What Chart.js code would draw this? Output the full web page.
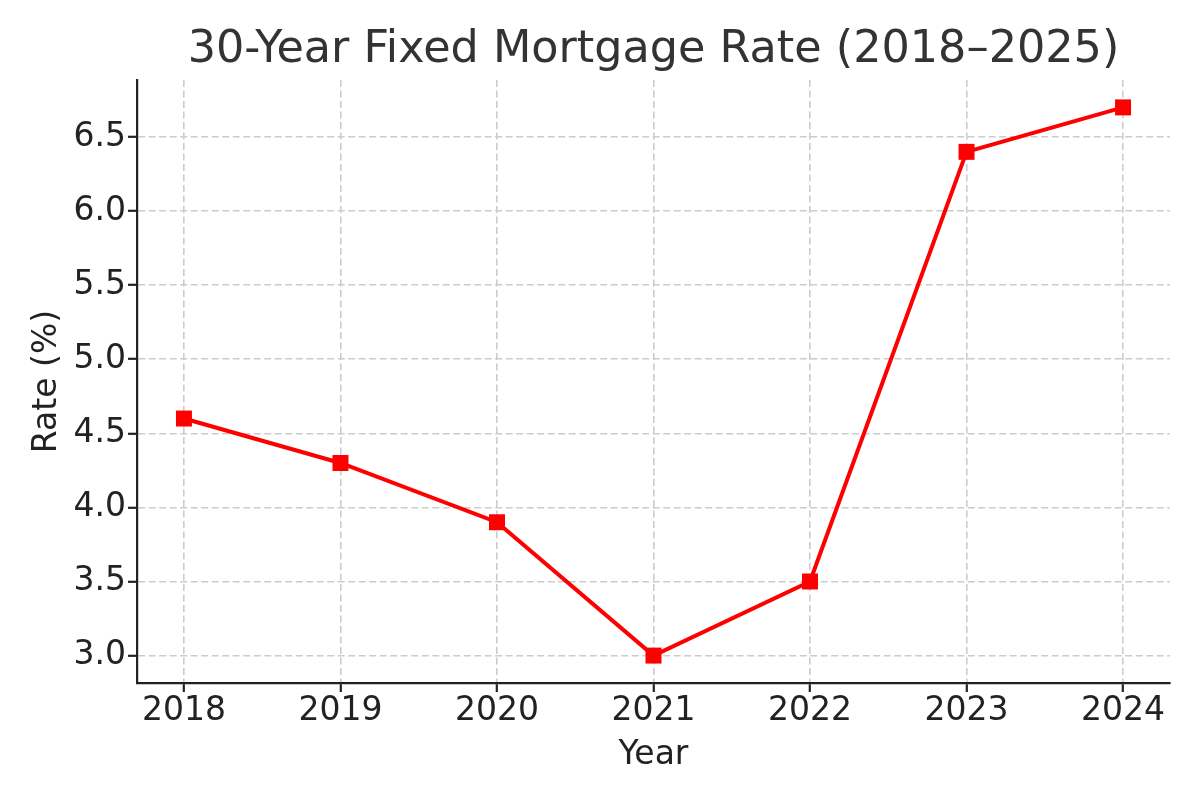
<!DOCTYPE html>
<html><head><meta charset="utf-8">
<script src="https://cdn.jsdelivr.net/npm/chart.js@4/dist/chart.umd.min.js"></script>
<style>html,body{margin:0;padding:0;background:#fff}#wrap{width:1200px;height:800px}</style>
</head><body><div id="wrap"><canvas id="c" width="1200" height="800"></canvas></div>
<script>
const years = [2018, 2019, 2020, 2021, 2022, 2023, 2024];
const rates = [4.6, 4.3, 3.9, 3.0, 3.5, 6.4, 6.7];
const yTicks = [3.0, 3.5, 4.0, 4.5, 5.0, 5.5, 6.0, 6.5];
const titleText = '30-Year Fixed Mortgage Rate (2018\u20132025)';
const xLabel = 'Year';
const yLabel = 'Rate (%)';

const FONT = "'DejaVu Sans', sans-serif";
const titlePlugin = {
  id: 'centerTitle',
  afterDraw(chart) {
    const ctx = chart.ctx, a = chart.chartArea;
    ctx.save();
    ctx.font = "44.5px " + FONT;
    ctx.fillStyle = '#333333';
    ctx.textAlign = 'center';
    ctx.textBaseline = 'middle';
    ctx.fillText(titleText, (a.left + a.right) / 2, 50);
    ctx.restore();
  }
};

new Chart(document.getElementById('c'), {
  type: 'line',
  data: {
    datasets: [{
      data: years.map((y, i) => ({x: y, y: rates[i]})),
      borderColor: '#ff0000',
      backgroundColor: '#ff0000',
      borderWidth: 4,
      pointStyle: 'rect',
      pointRadius: 11.3,
      pointBorderWidth: 0,
      tension: 0
    }]
  },
  options: {
    responsive: false,
    animation: false,
    devicePixelRatio: 1,
    layout: {padding: {top: 80, right: 30, left: 0, bottom: 0}},
    plugins: {legend: {display: false}, tooltip: {enabled: false}},
    scales: {
      x: {
        type: 'linear',
        min: 2017.7, max: 2024.3,
        afterBuildTicks: s => { s.ticks = years.map(v => ({value: v})); },
        afterFit: s => { s.height = 117; },
        ticks: {
          font: {family: FONT, size: 33}, color: '#222222', padding: 0,
          callback: v => String(v), maxRotation: 0, autoSkip: false
        },
        grid: {
          color: '#cccccc', lineWidth: 1.6,
          tickColor: '#222222', tickLength: 9, tickWidth: 2.2, tickBorderDash: []
        },
        border: {display: true, color: '#222222', width: 2.2, dash: [7, 3.5]},
        title: {display: true, text: xLabel, font: {family: FONT, size: 33}, color: '#222222', padding: {top: 0, bottom: 25}}
      },
      y: {
        type: 'linear',
        min: 2.815, max: 6.885,
        afterBuildTicks: s => { s.ticks = yTicks.map(v => ({value: v})); },
        afterFit: s => { s.width = 137; },
        ticks: {
          font: {family: FONT, size: 33}, color: '#222222', padding: 2,
          callback: v => Number(v).toFixed(1)
        },
        grid: {
          color: '#cccccc', lineWidth: 1.6,
          tickColor: '#222222', tickLength: 9, tickWidth: 2.2, tickBorderDash: []
        },
        border: {display: true, color: '#222222', width: 2.2, dash: [7, 3.5]},
        title: {display: true, text: yLabel, font: {family: FONT, size: 33}, color: '#222222', padding: {top: 28, bottom: 0}}
      }
    }
  },
  plugins: [titlePlugin]
});
</script></body></html>
